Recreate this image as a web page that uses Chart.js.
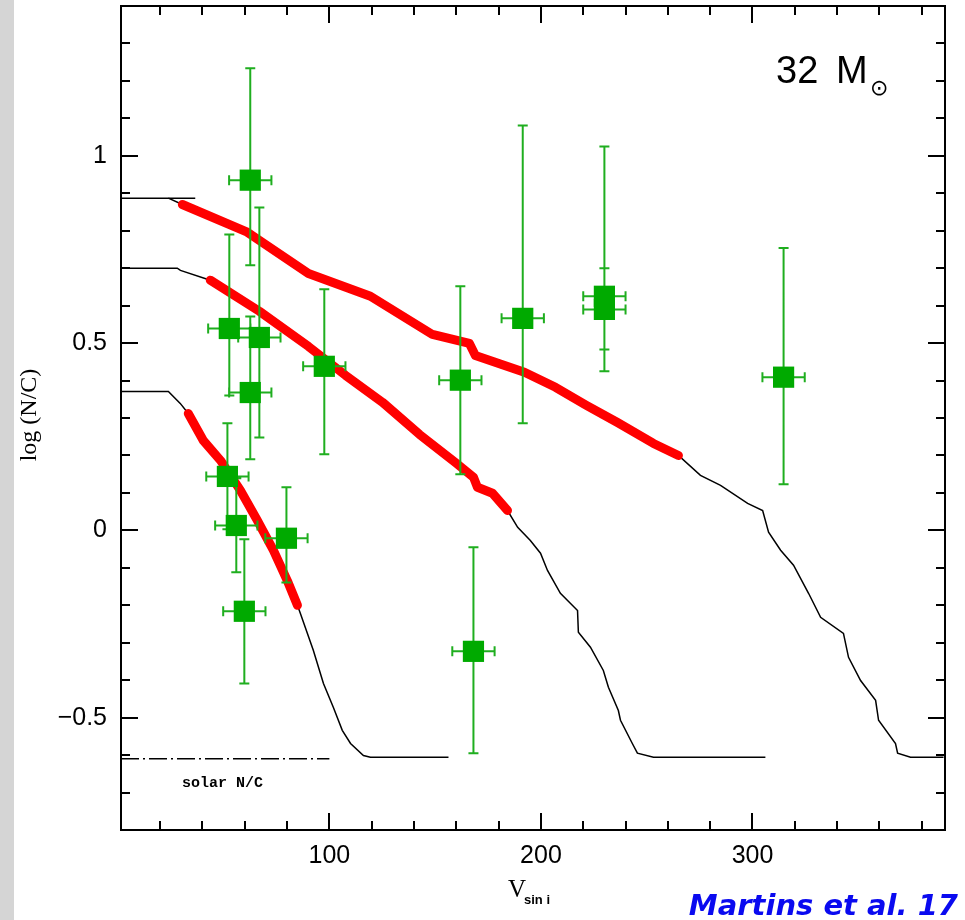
<!DOCTYPE html>
<html>
<head>
<meta charset="utf-8">
<script src="https://cdn.jsdelivr.net/npm/chart.js@4/dist/chart.umd.min.js"></script>
<style>
  html, body { margin: 0; padding: 0; background: #fff; }
  canvas { display: block; }
</style>
</head>
<body>
<canvas id="chart" width="965" height="920"></canvas>
<script>
// Observed stars: V sin i (km/s), log(N/C) and error bars
const starV      = [62.6, 52.7, 66.9, 62.6, 97.6, 51.8, 56.0, 79.7, 59.8, 161.9, 191.4, 230.0, 230.0, 168.1, 314.7];
const starNC     = [0.935, 0.539, 0.515, 0.368, 0.438, 0.144, 0.013, -0.021, -0.216, 0.401, 0.566, 0.625, 0.590, -0.323, 0.409];
const starErrUp  = [0.299, 0.251, 0.347, 0.203, 0.206, 0.142, 0.126, 0.136, 0.192, 0.251, 0.515, 0.400, 0.110, 0.278, 0.345];
const starErrLow = [0.227, 0.179, 0.267, 0.178, 0.235, 0.141, 0.125, 0.118, 0.193, 0.251, 0.280, 0.200, 0.107, 0.272, 0.286];
const starErrV   = [10, 10, 10, 10, 10, 10, 10, 10, 10, 10, 10, 10, 10, 10, 10];

// Track 1 (top): flat start, red part, black tail
const t1FlatV  = [1.5, 36.6];
const t1FlatNC = [0.887, 0.887];
const t1HeadV  = [23.9];
const t1HeadNC = [0.887];
const t1RedV   = [30.5, 61.2, 90.1, 119.4, 148.7, 166.2, 169.0, 192.2, 206.9, 221.5, 236.2, 253.2, 265.0];
const t1RedNC  = [0.870, 0.796, 0.686, 0.625, 0.523, 0.499, 0.467, 0.422, 0.382, 0.334, 0.288, 0.232, 0.200];
const t1TailV  = [275.4, 284.9, 297.7, 304.8, 307.6, 313.3, 319.4, 326.5, 332.2, 343.0, 345.4, 351.1, 358.2, 359.6, 367.6, 368.6, 374.7, 390.3];
const t1TailNC = [0.147, 0.120, 0.072, 0.053, -0.005, -0.053, -0.093, -0.168, -0.232, -0.275, -0.339, -0.401, -0.454, -0.507, -0.569, -0.595, -0.606, -0.606];

// Track 2 (middle)
const t2HeadV  = [1.5, 28.1, 29.6];
const t2HeadNC = [0.700, 0.700, 0.694];
const t2RedV   = [43.7, 66.9, 90.1, 107.6, 125.1, 142.6, 160.0, 168.1, 170.0, 177.1, 184.2];
const t2RedNC  = [0.668, 0.585, 0.491, 0.414, 0.342, 0.256, 0.179, 0.142, 0.115, 0.099, 0.053];
const t2TailV  = [189.0, 195.0, 199.8, 203.1, 209.2, 217.3, 217.7, 223.4, 229.5, 231.9, 236.6, 237.6, 243.2, 245.6, 253.2, 306.1];
const t2TailNC = [0.008, -0.027, -0.061, -0.107, -0.168, -0.214, -0.272, -0.312, -0.374, -0.419, -0.481, -0.507, -0.569, -0.595, -0.606, -0.606];

// Track 3 (bottom)
const t3HeadV  = [1.5, 23.9, 29.5];
const t3HeadNC = [0.371, 0.371, 0.339];
const t3RedV   = [33.3, 40.4, 48.5, 57.9, 65.9, 73.5, 80.1, 84.9];
const t3RedNC  = [0.312, 0.240, 0.187, 0.107, 0.027, -0.053, -0.134, -0.200];
const t3TailV  = [86.3, 92.4, 97.2, 101.9, 106.1, 110.0, 116.1, 119.4, 156.3];
const t3TailNC = [-0.222, -0.320, -0.409, -0.473, -0.534, -0.569, -0.601, -0.606, -0.606];

// solar N/C reference line
const solarV  = [1.5, 100];
const solarNC = [-0.61, -0.61];

// axis ranges and labelled ticks
const xRange = [1.5, 391];
const yRange = [-0.8, 1.4];
const xLabelTicks = [100, 200, 300];
const yLabelTicks = [-0.5, 0, 0.5, 1];

const pts = (xs, ys) => xs.map((v, i) => ({ x: v, y: ys[i] }));

function blackTrack(data) {
  return {
    data: data, showLine: true, borderColor: '#000', borderWidth: 1.5,
    pointRadius: 0, fill: false, tension: 0, order: 3
  };
}
function redTrack(data) {
  return {
    data: data, showLine: true, borderColor: '#ff0000', borderWidth: 9,
    borderCapStyle: 'round', borderJoinStyle: 'round',
    pointRadius: 0, fill: false, tension: 0, order: 2
  };
}

// error bars, drawn just before the squares
const errorBars = {
  id: 'errorBars',
  beforeDatasetDraw(chart, args) {
    if (args.index !== 0) return;
    const { ctx, scales: { x, y } } = chart;
    ctx.save();
    ctx.strokeStyle = '#1fae1f';
    ctx.lineWidth = 2;
    ctx.beginPath();
    starV.forEach((v, i) => {
      const px = x.getPixelForValue(v);
      const py = y.getPixelForValue(starNC[i]);
      const top = y.getPixelForValue(starNC[i] + starErrUp[i]);
      const bot = y.getPixelForValue(starNC[i] - starErrLow[i]);
      const l = x.getPixelForValue(v - starErrV[i]);
      const r = x.getPixelForValue(v + starErrV[i]);
      ctx.moveTo(px, top); ctx.lineTo(px, bot);
      ctx.moveTo(px - 5, top); ctx.lineTo(px + 5, top);
      ctx.moveTo(px - 5, bot); ctx.lineTo(px + 5, bot);
      ctx.moveTo(l, py); ctx.lineTo(r, py);
      ctx.moveTo(l, py - 5); ctx.lineTo(l, py + 5);
      ctx.moveTo(r, py - 5); ctx.lineTo(r, py + 5);
    });
    ctx.stroke();
    ctx.restore();
  }
};

// box frame and inward ticks on all four sides
const frameTicks = {
  id: 'frameTicks',
  afterDatasetsDraw(chart) {
    const { ctx, chartArea: a, scales: { x, y } } = chart;
    ctx.save();
    ctx.strokeStyle = '#000';
    ctx.lineWidth = 2;
    ctx.strokeRect(a.left, a.top, a.right - a.left, a.bottom - a.top);
    ctx.beginPath();
    for (let v = 20; v <= x.max; v += 20) {
      const px = Math.round(x.getPixelForValue(v));
      const len = v % 100 === 0 ? 17 : 9;
      ctx.moveTo(px, a.bottom); ctx.lineTo(px, a.bottom - len);
      ctx.moveTo(px, a.top); ctx.lineTo(px, a.top + len);
    }
    for (let k = -7; k <= 13; k++) {
      const py = Math.round(y.getPixelForValue(k / 10));
      const len = k % 5 === 0 ? 17 : 9;
      ctx.moveTo(a.left, py); ctx.lineTo(a.left + len, py);
      ctx.moveTo(a.right, py); ctx.lineTo(a.right - len, py);
    }
    ctx.stroke();
    ctx.restore();
  }
};

// background strip and text annotations
const decor = {
  id: 'decor',
  beforeDraw(chart) {
    const ctx = chart.ctx;
    ctx.save();
    ctx.fillStyle = '#fff';
    ctx.fillRect(0, 0, 965, 920);
    ctx.fillStyle = '#d5d5d5';
    ctx.fillRect(0, 0, 14, 920);
    ctx.restore();
  },
  afterDraw(chart) {
    const ctx = chart.ctx;
    ctx.save();
    ctx.fillStyle = '#000';
    ctx.textBaseline = 'alphabetic';

    // mass label
    ctx.font = '38px "Liberation Sans"';
    ctx.fillText('32', 776, 83);
    ctx.fillText('M', 836, 83);
    ctx.font = '22px "DejaVu Sans"';
    ctx.fillText('\u2299', 870, 95);

    // solar N/C
    ctx.font = 'bold 15px "Liberation Mono"';
    ctx.fillText('solar N/C', 182, 787);

    // x title
    ctx.font = '25px "Liberation Serif"';
    ctx.fillText('V', 508, 897);
    ctx.font = 'bold 13px "Liberation Sans"';
    ctx.fillText('sin i', 524, 904);

    // y title
    ctx.save();
    ctx.translate(30, 415);
    ctx.rotate(-Math.PI / 2);
    ctx.font = '24px "Liberation Serif"';
    ctx.textAlign = 'center';
    ctx.textBaseline = 'middle';
    ctx.fillText('log (N/C)', 0, 0);
    ctx.restore();

    // credit
    ctx.fillStyle = '#0a0af0';
    ctx.font = 'bold italic 29px "DejaVu Sans"';
    ctx.textAlign = 'right';
    ctx.fillText('Martins et al. 17', 958, 915);
    ctx.restore();
  }
};

const t1Track = pts([...t1HeadV, ...t1RedV, ...t1TailV], [...t1HeadNC, ...t1RedNC, ...t1TailNC]);
const t2Track = pts([...t2HeadV, ...t2RedV, ...t2TailV], [...t2HeadNC, ...t2RedNC, ...t2TailNC]);
const t3Track = pts([...t3HeadV, ...t3RedV, ...t3TailV], [...t3HeadNC, ...t3RedNC, ...t3TailNC]);

new Chart(document.getElementById('chart'), {
  type: 'scatter',
  data: {
    datasets: [
      {
        data: pts(starV, starNC),
        pointStyle: 'rect', pointRadius: 15, pointHoverRadius: 15,
        backgroundColor: '#00aa00', borderColor: '#00aa00', borderWidth: 0,
        order: 0
      },
      redTrack(pts(t1RedV, t1RedNC)),
      redTrack(pts(t2RedV, t2RedNC)),
      redTrack(pts(t3RedV, t3RedNC)),
      blackTrack(t1Track),
      blackTrack(pts(t1FlatV, t1FlatNC)),
      blackTrack(t2Track),
      blackTrack(t3Track),
      Object.assign(blackTrack(pts(solarV, solarNC)), { borderDash: [18, 4, 2, 4] })
    ]
  },
  options: {
    responsive: false,
    animation: false,
    events: [],
    layout: { autoPadding: false, padding: { top: 6, right: 20, left: 0, bottom: 0 } },
    plugins: { legend: { display: false }, tooltip: { enabled: false } },
    scales: {
      x: {
        type: 'linear', min: xRange[0], max: xRange[1],
        grid: { display: false, drawTicks: false },
        border: { display: false },
        ticks: {
          stepSize: 20, autoSkip: false, maxRotation: 0, padding: 11,
          color: '#000', font: { family: 'Liberation Sans', size: 25 },
          callback: v => (xLabelTicks.includes(v) ? String(v) : '')
        },
        afterFit: s => { s.height = 90; s.paddingLeft = 0; s.paddingRight = 0; }
      },
      y: {
        type: 'linear', min: yRange[0], max: yRange[1],
        grid: { display: false, drawTicks: false },
        border: { display: false },
        ticks: {
          stepSize: 0.1, autoSkip: false, padding: 14,
          color: '#000', font: { family: 'Liberation Sans', size: 25 },
          callback: v => {
            const k = Math.round(v * 10) / 10;
            return yLabelTicks.includes(k) ? String(k).replace('-', '\u2212') : '';
          }
        },
        afterFit: s => { s.width = 121; s.paddingTop = 0; s.paddingBottom = 0; }
      }
    }
  },
  plugins: [decor, errorBars, frameTicks]
});
</script>
</body>
</html>
